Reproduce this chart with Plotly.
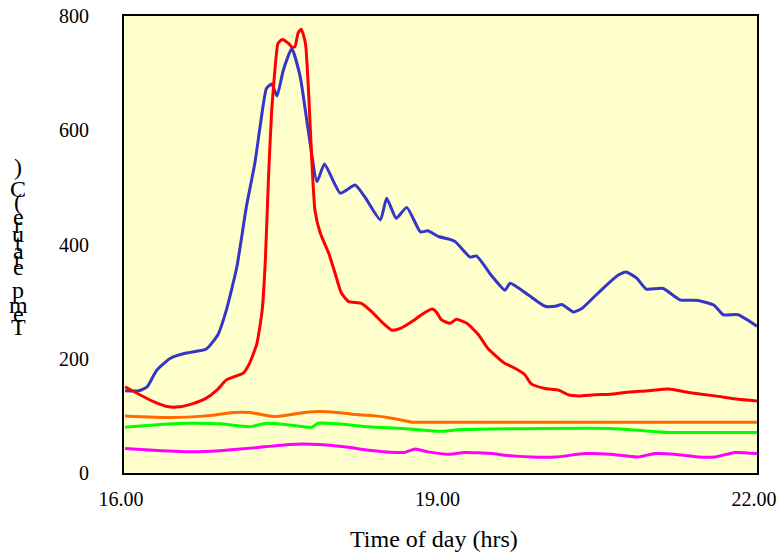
import plotly.graph_objects as go

# ---------------- data ----------------
blue_t = [16.01, 16.14, 16.22, 16.31, 16.44, 16.59, 16.78, 16.89, 16.97, 17.07, 17.16, 17.24,
          17.29, 17.35, 17.40, 17.45, 17.51, 17.59, 17.67, 17.75, 17.83, 17.90, 18.05, 18.19,
          18.28, 18.43, 18.49, 18.58, 18.68, 18.81, 18.88, 18.98, 19.09, 19.14, 19.28, 19.34,
          19.49, 19.61, 19.66, 19.83, 19.99, 20.09, 20.15, 20.26, 20.34, 20.46, 20.61, 20.69,
          20.76, 20.86, 20.95, 21.11, 21.27, 21.44, 21.59, 21.68, 21.82, 22.00]
blue_v = [144, 144, 151, 180, 201, 210, 217, 242, 285, 361, 466, 542,
          606, 673, 681, 660, 705, 743, 694, 595, 510, 541, 490, 504,
          484, 443, 481, 446, 465, 422, 424, 414, 409, 405, 378, 380,
          344, 320, 332, 312, 292, 292, 295, 282, 288, 309, 335, 347,
          352, 341, 322, 323, 303, 302, 294, 277, 277, 257]

red_t = [16.01, 16.15, 16.28, 16.42, 16.53, 16.66, 16.78, 16.88, 16.97, 17.05, 17.13, 17.19,
         17.26, 17.31, 17.34, 17.37, 17.40, 17.43, 17.46, 17.50, 17.56, 17.59, 17.62, 17.65,
         17.68, 17.72, 17.75, 17.78, 17.81, 17.86, 17.94, 18.00, 18.06, 18.13, 18.25, 18.35,
         18.44, 18.54, 18.62, 18.73, 18.82, 18.92, 18.96, 19.01, 19.09, 19.15, 19.25, 19.36,
         19.45, 19.60, 19.71, 19.80, 19.86, 19.99, 20.12, 20.21, 20.31, 20.46, 20.61, 20.75,
         20.97, 21.16, 21.35, 21.60, 21.82, 22.00]
red_v = [151, 137, 125, 116, 116, 122, 131, 145, 163, 169, 175, 192,
         227, 285, 373, 519, 635, 705, 752, 759, 752, 746, 746, 770,
         777, 752, 665, 548, 460, 420, 385, 350, 315, 300, 297, 282,
         265, 250, 253, 265, 277, 287, 282, 268, 262, 269, 262, 242,
         218, 193, 183, 172, 156, 148, 145, 137, 135, 137, 138, 141,
         144, 147, 141, 135, 129, 126]

orange_t = [16.01, 16.44, 16.78, 17.04, 17.19, 17.42, 17.57, 17.75, 17.97, 18.16, 18.38,
            18.54, 18.73, 19.09, 20.50, 22.00]
orange_v = [100, 97, 100, 106, 106, 99, 102, 107, 107, 103, 100,
            96, 89, 89, 89, 89]

green_t = [16.01, 16.28, 16.59, 16.91, 17.19, 17.35, 17.57, 17.78, 17.84, 18.03, 18.32,
           18.63, 18.85, 19.01, 19.20, 19.99, 20.61, 20.93, 21.16, 22.00]
green_v = [80, 84, 87, 86, 81, 87, 84, 80, 87, 86, 81,
           78, 75, 73, 76, 78, 78, 74, 71, 71]

magenta_t = [16.01, 16.28, 16.66, 16.91, 17.23, 17.57, 17.84, 18.09, 18.32, 18.57, 18.66,
             18.76, 18.88, 19.09, 19.23, 19.49, 19.61, 19.86, 20.09, 20.37, 20.61, 20.87,
             21.03, 21.22, 21.44, 21.60, 21.79, 22.00]
magenta_v = [43, 40, 37, 39, 44, 50, 50, 46, 40, 36, 36,
             42, 37, 33, 36, 34, 31, 28, 28, 34, 33, 28,
             34, 33, 28, 28, 36, 34]

x_ticks = [16, 19, 22]
x_ticklabels = ["16.00", "19.00", "22.00"]
y_ticks = [0, 200, 400, 600, 800]
y_ticklabels = ["0", "200", "400", "600", "800"]

x_title = "Time of day (hrs)"
y_title = "Temperature (C)"

# ---------------- figure ----------------
W, H = 779, 553
L, R, T, B = 124, 757, 16, 473

series = [
    (blue_t, blue_v, "#3535C8"),
    (red_t, red_v, "#FF0000"),
    (orange_t, orange_v, "#FF6A00"),
    (green_t, green_v, "#00FF00"),
    (magenta_t, magenta_v, "#FF00FF"),
]

fig = go.Figure()
for xs, ys, col in series:
    fig.add_trace(go.Scatter(x=xs, y=ys, mode="lines",
                             line=dict(color=col, width=3, shape="spline", smoothing=0.5),
                             hoverinfo="skip"))

serif = "Liberation Serif, Times New Roman, serif"

fig.update_layout(
    width=W, height=H,
    margin=dict(l=L, r=W - R, t=T, b=H - B, autoexpand=False),
    paper_bgcolor="white",
    plot_bgcolor="#FFFFCC",
    showlegend=False,
    font=dict(family=serif, size=20, color="black"),
)
fig.update_xaxes(range=[16, 22], tickvals=x_ticks, ticktext=x_ticklabels,
                 showgrid=False, zeroline=False, showline=True, mirror=True,
                 linecolor="black", linewidth=2, ticks="", automargin=False,
                 ticklabelstandoff=7, ticklabelshift=-3, ticklabeloverflow="allow",
                 tickfont=dict(family=serif, size=20, color="black"))
fig.update_yaxes(range=[0, 800], tickvals=y_ticks, ticktext=y_ticklabels,
                 showgrid=False, zeroline=False, showline=True, mirror=True,
                 linecolor="black", linewidth=2, ticks="", automargin=False,
                 ticklabelstandoff=29, ticklabeloverflow="allow",
                 tickfont=dict(family=serif, size=20, color="black"))

def py(p):
    return (B - p) / (B - T)

def px(p):
    return (p - L) / (R - L)

# x axis title
fig.add_annotation(text=x_title, xref="paper", yref="paper",
                   x=px(433.5), y=py(539), xanchor="center", yanchor="middle",
                   showarrow=False, font=dict(family=serif, size=24, color="black"))

# y axis title: upright glyphs stacked bottom-to-top, as in the reference
glyph_centres = [327, 314, 305, 290, 267, 259, 251, 243, 234, 225, 217, 210, 202, 189, 167]
for ch, yc in zip(y_title, glyph_centres):
    if ch == " ":
        continue
    fig.add_annotation(text=ch, xref="paper", yref="paper",
                       x=px(18), y=py(yc), xanchor="center", yanchor="middle",
                       showarrow=False, font=dict(family=serif, size=24, color="black"))

fig.write_html("out.html", config={"displayModeBar": False},
               post_script="document.body.style.margin='0';")
